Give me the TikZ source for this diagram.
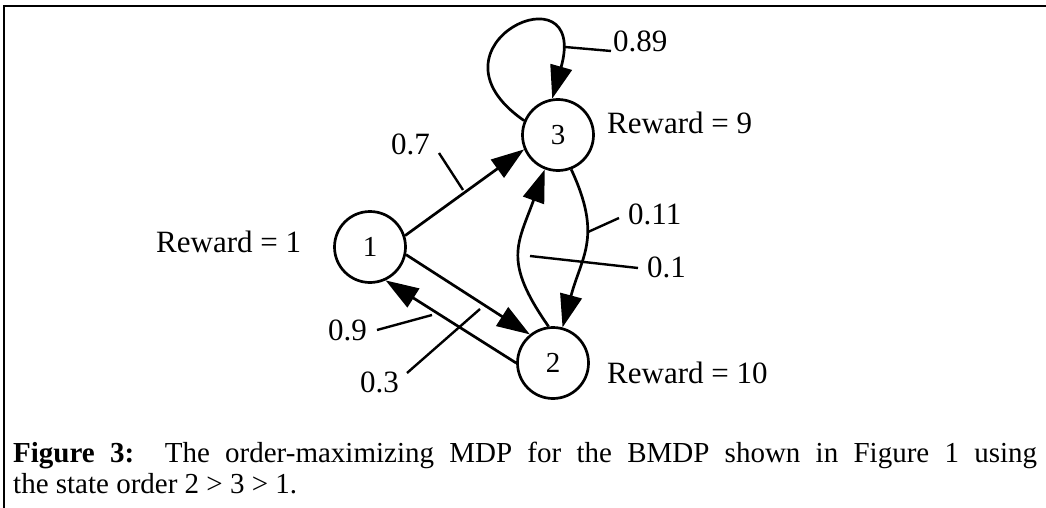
\documentclass[tikz,border=0pt]{standalone}
\usepackage{fontspec}
\setmainfont{Liberation Serif}
\usetikzlibrary{arrows.meta,positioning}

\begin{document}
\begin{tikzpicture}[x=1pt,y=-1pt,
    state/.style={draw,circle,line width=2.7pt,minimum size=71pt,inner sep=0pt,font=\fontsize{29}{34}\selectfont},
    lbl/.style={anchor=base west,inner sep=0pt,font=\fontsize{31}{36}\selectfont},
    edge/.style={line width=2.7pt,-{Triangle[length=33pt,width=22pt]}},
    leader/.style={line width=2.4pt}]

    \path[fill=white,use as bounding box] (0,0) rectangle (1046,508);
    \draw[line width=2.4pt] (1046,6) -- (4,6) -- (4,508);

    \node (s1) at (370,247) [state] {1};
    \node (s2) at (553,363) [state] {2};
    \node (s3) at (558,135) [state] {3};

    \node (r1) at (156,252) [lbl] {Reward = 1};
    \node (r2) at (607,383) [lbl] {Reward = 10};
    \node (r3) at (607,133) [lbl] {Reward = 9};

    % transitions
    \draw[edge] (s1.18) -- (s3.203);
    \draw[edge] (s1.-12) -- (s2.129);
    \draw[edge] (s2.180) -- (s1.-65);
    \draw[edge] (s2.97) to[out=125,in=-110,looseness=1.3] (s3.-111);
    \draw[edge] (s3.-69) to[out=-65,in=75,looseness=1.2] (s2.75);
    \draw[edge] (s3.157) .. controls (415,45) and (590,-35) .. (s3.99);

    % probabilities
    \node (p89) at (613,52) [lbl] {0.89};
    \node (p7) at (391,154) [lbl] {0.7};
    \node (p11) at (628,224) [lbl] {0.11};
    \node (p1) at (647,277) [lbl] {0.1};
    \node (p9) at (328,340) [lbl] {0.9};
    \node (p3) at (360,392) [lbl] {0.3};

    \coordinate (e89) at (565,47);  \coordinate (t89) at (611,51);
    \coordinate (e7) at (463,190);  \coordinate (t7) at (439,153);
    \coordinate (e11) at (588,232); \coordinate (t11) at (619,218);
    \coordinate (e1) at (530,256);  \coordinate (t1) at (638,268);
    \coordinate (e9) at (432,315);  \coordinate (t9) at (377,330);
    \coordinate (e3) at (480,309);  \coordinate (t3) at (407,373);
    \draw[leader] (t89) -- (e89);
    \draw[leader] (t7) -- (e7);
    \draw[leader] (t11) -- (e11);
    \draw[leader] (t1) -- (e1);
    \draw[leader] (t9) -- (e9);
    \draw[leader] (t3) -- (e3);

    \node (cap) at (13,493) [anchor=base west,inner sep=0pt] {\parbox[b]{1024pt}{\fontsize{29}{31}\selectfont
      \textbf{Figure 3:}\ \ The order-maximizing MDP for the BMDP shown in Figure 1 using\linebreak
      the state order 2 > 3 > 1.}};

\end{tikzpicture}
\end{document}
